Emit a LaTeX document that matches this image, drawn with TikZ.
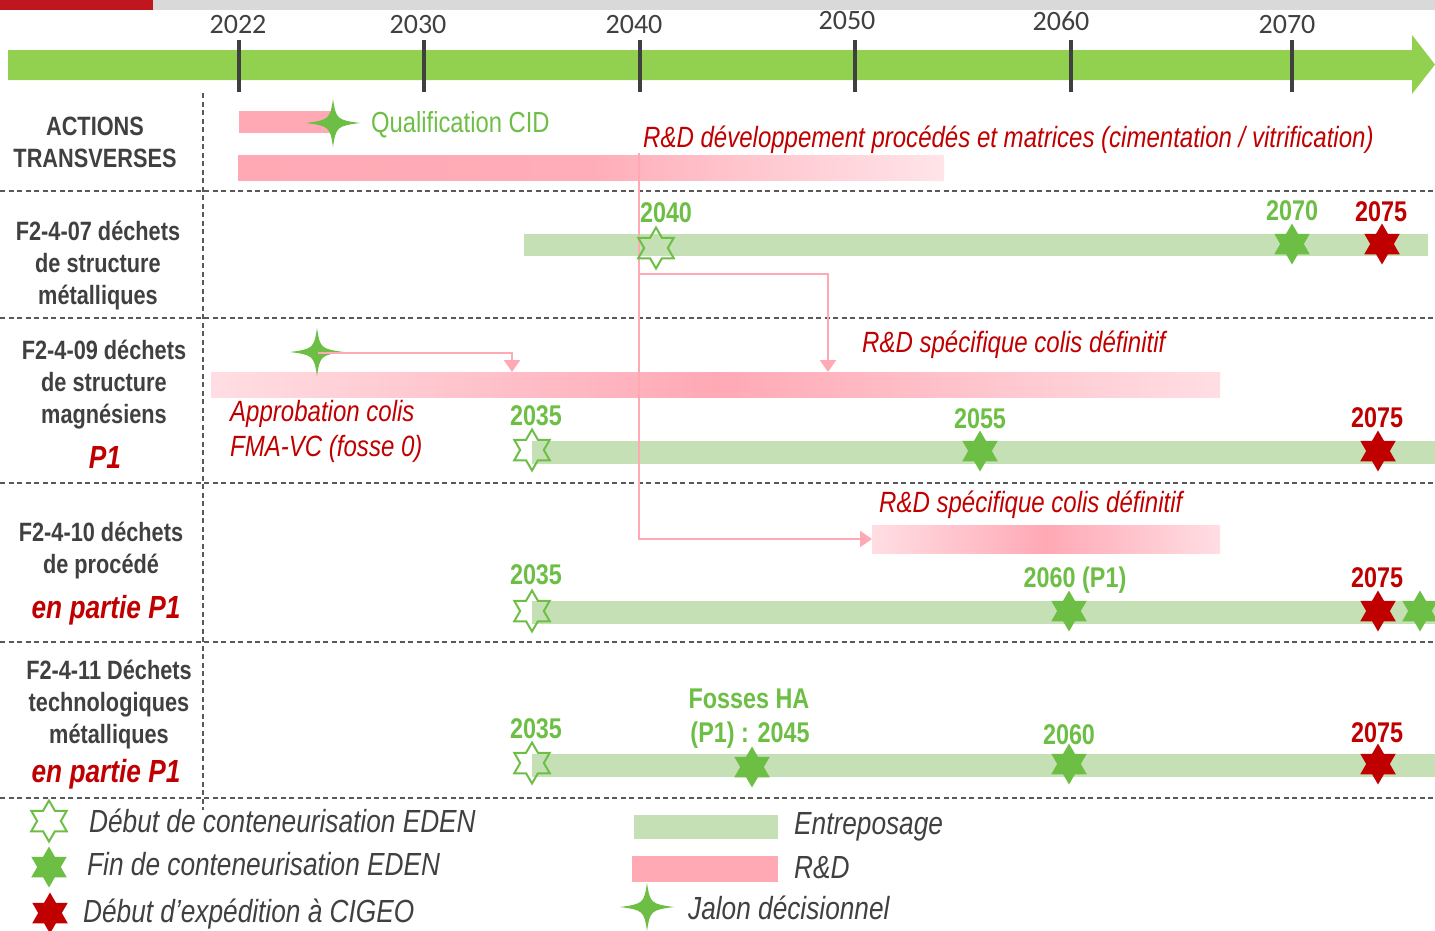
\documentclass[tikz,border=0pt]{standalone}
\usepackage{fontspec}
\setmainfont[FakeStretch=0.82]{Liberation Sans}
\newfontfamily\calib{Carlito}
\usetikzlibrary{shapes.geometric,arrows.meta}
\definecolor{topred}{HTML}{C0161F}
\definecolor{topgray}{HTML}{D9D9D9}
\definecolor{axisgreen}{HTML}{92D050}
\definecolor{entgreen}{HTML}{C5E0B4}
\definecolor{stargreen}{HTML}{6DBE45}
\definecolor{darkred}{HTML}{C00000}
\definecolor{txtgray}{HTML}{404040}
\definecolor{sepgray}{HTML}{595959}
\definecolor{pinkD}{HTML}{FFA9B5}
\definecolor{pinkL}{HTML}{FFDEE3}
\begin{document}
\begin{tikzpicture}[x=1pt,y=-1pt,
  lab/.style={font=\fontsize{26.5}{26.5}\selectfont\bfseries, text=txtgray, inner sep=0pt, anchor=base},
  lbred/.style={font=\fontsize{32}{32}\selectfont\bfseries\itshape, text=darkred, inner sep=0pt, anchor=base},
  yr/.style={font=\calib\fontsize{28}{28}\selectfont, text=txtgray, inner sep=0pt, anchor=base},
  numg/.style={font=\fontsize{28.5}{28.5}\selectfont\bfseries, text=stargreen, inner sep=0pt, anchor=base},
  numr/.style={font=\fontsize{28.5}{28.5}\selectfont\bfseries, text=darkred, inner sep=0pt, anchor=base},
  rdtxt/.style={font=\fontsize{29.3}{29.3}\selectfont\itshape, text=darkred, inner sep=0pt, anchor=base west},
  qual/.style={font=\fontsize{29}{29}\selectfont, text=stargreen, inner sep=0pt, anchor=base west},
  legtxt/.style={font=\fontsize{32}{32}\selectfont\itshape, text=txtgray, inner sep=0pt, anchor=base west},
  star6/.style={star, star points=6, star point ratio=1.732, minimum size=41pt, inner sep=0pt},
  fullstar/.style={star6, fill=stargreen},
  redstar/.style={star6, fill=darkred},
  openstar/.style={star6, draw=stargreen, line width=2pt},
  sep/.style={draw=sepgray, line width=1.3pt, dash pattern=on 5pt off 3.5pt},
  tick/.style={draw=txtgray, line width=4pt},
  conn/.style={draw=pinkD, line width=2.5pt, -{Triangle[length=12pt,width=16pt]}},
  barnode/.style={inner sep=0pt, outer sep=0pt, draw=none},
  jalon/.pic={\fill[stargreen] (27,0) .. controls (4,3) and (3,4) .. (0,24) .. controls (-3,4) and (-4,3) .. (-27,0) .. controls (-4,-3) and (-3,-4) .. (0,-24) .. controls (3,-4) and (4,-3) .. (27,0) -- cycle;}
]
\useasboundingbox (0,0) rectangle (1435,930);
% top band
\fill[topred] (0,0) rectangle (153,10);
\fill[topgray] (153,0) rectangle (1435,10);
% time axis
\fill[axisgreen] (8,50) -- (1412,50) -- (1412,35) -- (1435,64.5) -- (1412,94) -- (1412,80) -- (8,80) -- cycle;
\foreach \x/\lx/\ly/\yy in {239/238/33/2022, 424/418/33/2030, 640/634/33/2040, 855/847/29/2050, 1071/1061/30/2060, 1292/1287/33/2070}{
  \draw[tick] (\x,40) -- (\x,92);
  \node[yr] (y\yy) at (\lx,\ly) {\yy};
}
% separators
\foreach \yy in {191,318,483,642,798}{\draw[sep] (0,\yy) -- (1435,\yy);}
\draw[sep] (203,93) -- (203,810);

% row labels
\node[lab] (a1) at (95,135) {ACTIONS};
\node[lab] (a2) at (95,167) {TRANSVERSES};
\node[lab] (b1) at (98,240) {F2-4-07 déchets};
\node[lab] (b2) at (98,272) {de structure};
\node[lab] (b3) at (98,304) {métalliques};
\node[lab] (c1) at (104,359) {F2-4-09 déchets};
\node[lab] (c2) at (104,391) {de structure};
\node[lab] (c3) at (104,423) {magnésiens};
\node[lbred] (c4) at (105,468) {P1};
\node[lab] (d1) at (101,541) {F2-4-10 déchets};
\node[lab] (d2) at (101,573) {de procédé};
\node[lbred] (d3) at (106,618) {en partie P1};
\node[lab] (e1) at (109,679) {F2-4-11 Déchets};
\node[lab] (e2) at (109,711) {technologiques};
\node[lab] (e3) at (109,743) {métalliques};
\node[lbred] (e4) at (106,782) {en partie P1};

% ---- bars ----
\fill[pinkD] (239,111) rectangle (333,133);
\node[barnode, minimum width=706pt, minimum height=25pt, left color=pinkD, right color=pinkL!80!white, middle color=pinkD!92!pinkL] (rd1) at (591,167.5) {};
\node[barnode, minimum width=1009pt, minimum height=25pt, left color=pinkL, right color=pinkL, middle color=pinkD] (rd3) at (715.5,384.5) {};
\node[barnode, minimum width=348pt, minimum height=28pt, left color=pinkL, right color=pinkL, middle color=pinkD] (rd4) at (1046,539) {};
\fill[entgreen] (524,234) rectangle (1428,256);
\fill[entgreen] (532,441) rectangle (1435,464);
\fill[entgreen] (532,601) rectangle (1435,624);
\fill[entgreen] (532,754) rectangle (1435,777);

% ---- texts ----
\node[qual] (q) at (371,132) {Qualification CID};
\node[rdtxt] (t1) at (643,147) {R\&D développement procédés et matrices (cimentation / vitrification)};
\node[rdtxt] (t3) at (862,352) {R\&D spécifique colis définitif};
\node[rdtxt] (t3b) at (230,421) {Approbation colis};
\node[rdtxt] (t3c) at (230,456) {FMA-VC (fosse 0)};
\node[rdtxt] (t4) at (879,512) {R\&D spécifique colis définitif};

% ---- jalons and connectors ----
\pic at (333,123) {jalon};
\pic at (317,352) {jalon};
\coordinate (j3) at (318,353);
\coordinate (k0) at (639,153);
\coordinate (k1) at (639,274);
\coordinate (k2) at (828,372);
\coordinate (k3) at (512,372);
\draw[conn] (k0) |- (rd4.west);
\draw[conn] (k1) -| (k2);
\draw[conn] (j3) -| (k3);

% ---- row 2 ----
\node[openstar] (s21) at (656,248) {};
\node[numg] (n21) at (666,222) {2040};
\node[fullstar] (s22) at (1292,244) {};
\node[numg] (n22) at (1292,220) {2070};
\node[redstar] (s23) at (1382,244) {};
\node[numr] (n23) at (1381,221) {2075};
% ---- row 3 ----
\node[openstar] (s31) at (532,450) {};
\node[numg] (n31) at (536,425) {2035};
\node[fullstar] (s32) at (980,451) {};
\node[numg] (n32) at (980,428) {2055};
\node[redstar] (s33) at (1378,451) {};
\node[numr] (n33) at (1377,427) {2075};
% ---- row 4 ----
\node[openstar] (s41) at (532,611) {};
\node[numg] (n41) at (536,584) {2035};
\node[fullstar] (s42) at (1069,611) {};
\node[numg] (n42) at (1075,587) {2060 (P1)};
\node[redstar] (s43) at (1378,611) {};
\node[numr] (n43) at (1377,587) {2075};
\node[fullstar] (s44) at (1420,611) {};
% ---- row 5 ----
\node[openstar] (s51) at (532,763) {};
\node[numg] (n51) at (536,738) {2035};
\node[fullstar] (s52) at (752,767) {};
\node[numg] (n52) at (749,708) {Fosses HA};
\node[numg] (n53) at (750,742) {(P1) : 2045};
\node[fullstar] (s53) at (1069,764) {};
\node[numg] (n54) at (1069,744) {2060};
\node[redstar] (s54) at (1378,764) {};
\node[numr] (n55) at (1377,742) {2075};

% ---- legend ----
\node[openstar] (l1) at (49,821) {};
\node[legtxt] (lt1) at (89,832) {Début de conteneurisation EDEN};
\node[fullstar] (l2) at (49,867) {};
\node[legtxt] (lt2) at (87,875) {Fin de conteneurisation EDEN};
\node[redstar] (l3) at (50,913) {};
\node[legtxt] (lt3) at (83,922) {Début d’expédition à CIGEO};
\fill[entgreen] (634,815) rectangle (778,839);
\node[legtxt] (lt4) at (794,834) {Entreposage};
\fill[pinkD] (632,856) rectangle (778,882);
\node[legtxt] (lt5) at (794,878) {R\&D};
\pic at (647,907) {jalon};
\node[legtxt] (lt6) at (688,919) {Jalon décisionnel};
\end{tikzpicture}
\end{document}
